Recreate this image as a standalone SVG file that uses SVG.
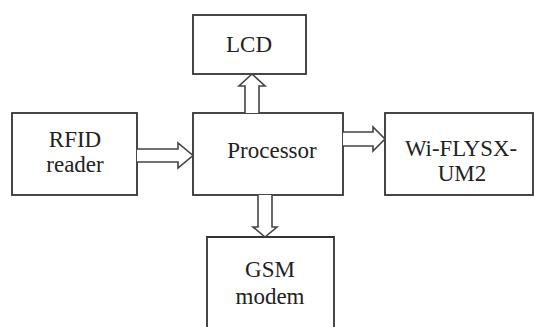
<svg xmlns="http://www.w3.org/2000/svg" width="535" height="327" viewBox="0 0 535 327">
<style>
.box{fill:#fff;stroke:#333;stroke-width:1.8}
.arr{fill:#fff;stroke:#444;stroke-width:1.6;stroke-linejoin:miter}
text{font-size:23px;fill:#222;text-anchor:middle}
</style>
<rect width="535" height="327" fill="#fff"/>
<g font-family="Liberation Serif, Tinos, Times New Roman, Times, Noto Serif, DejaVu Serif, serif">
<g id="lcd"><rect class="box" x="193" y="15" width="113" height="59"/><text x="249" y="52">LCD</text></g>
<g id="rfid"><rect class="box" x="12" y="113" width="125" height="82"/><text x="75" y="147">RFID</text><text x="75" y="172">reader</text></g>
<g id="processor"><rect class="box" x="193" y="113" width="150" height="82"/><text x="272" y="158">Processor</text></g>
<g id="wifly"><rect class="box" x="385" y="113" width="148" height="82"/><text x="461" y="156" textLength="112" lengthAdjust="spacingAndGlyphs">Wi-FLYSX-</text><text x="462" y="181">UM2</text></g>
<g id="gsm"><path class="box" d="M207,330 V237 H334 V330"/><text x="270" y="277">GSM</text><text x="270" y="304">modem</text></g>
</g>
<g id="connectors">
<polyline class="arr" points="245,113 245,86 239,86 252,74 265,86 259,86 259,113"/>
<polyline class="arr" points="258,195 258,227 253,227 265,237 277,227 272,227 272,195"/>
<polyline class="arr" points="137,149 178,149 178,143 193,155.5 178,168 178,162 137,162"/>
<polyline class="arr" points="343,132 373,132 373,127 385,139 373,151 373,146 343,146"/>
</g>
</svg>
